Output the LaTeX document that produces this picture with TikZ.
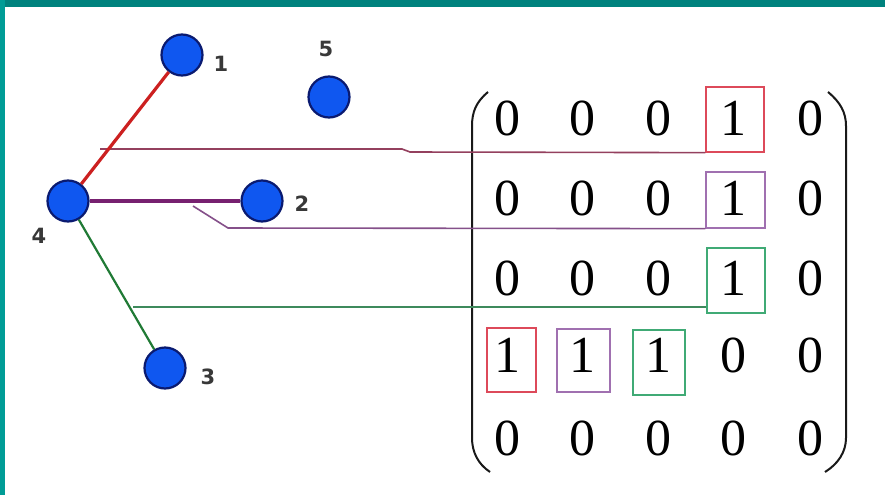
\documentclass[tikz,border=0pt]{standalone}
\usepackage{fontspec}
\setmainfont{Liberation Serif}
\newfontfamily\lblfont{DejaVu Sans}
\definecolor{tealtop}{HTML}{00827E}
\definecolor{tealside}{HTML}{009C96}
\definecolor{vfill}{HTML}{0F57F0}
\definecolor{vline}{HTML}{0A1A70}
\definecolor{redge}{HTML}{CC2020}
\definecolor{pedge}{HTML}{772070}
\definecolor{gedge}{HTML}{207A35}
\definecolor{rline}{HTML}{94405E}
\definecolor{pline}{HTML}{85508A}
\definecolor{gline}{HTML}{3E8A5C}
\definecolor{rbox}{HTML}{DD4A5A}
\definecolor{pbox}{HTML}{A070B0}
\definecolor{gbox}{HTML}{40AA75}
\tikzset{
  vert/.style={circle,fill=vfill,draw=vline,line width=2.2pt,minimum size=41pt,inner sep=0pt},
  lbl/.style={font=\lblfont\bfseries\fontsize{21}{21}\selectfont,text=black!78,inner sep=0pt},
  ent/.style={font=\fontsize{52}{52}\selectfont,inner sep=0pt,anchor=center},
  ebox/.style={draw=#1,line width=1.3pt,inner sep=0pt,rectangle},
  conn/.style={draw=#1,line width=1.6pt},
  paren/.style={line width=2pt,black!90}
}
\begin{document}
\begin{tikzpicture}[x=1pt,y=-1pt]
\fill[white] (0,0) rectangle (885,495);
\useasboundingbox (0,0) rectangle (885,495);
\fill[tealtop] (0,0) rectangle (885,7);
\fill[tealside] (0,0) rectangle (5,495);

% matrix entries
\foreach \r/\y in {1/118,2/198,3/278,4/355,5/438}{
  \foreach \c/\x in {1/507,2/582,3/658,4/733,5/810}{
    \coordinate (p\r\c) at (\x,\y);
  }
}
\node[ent] (e11) at (p11) {0}; \node[ent] (e12) at (p12) {0}; \node[ent] (e13) at (p13) {0}; \node[ent] (e14) at (p14) {1}; \node[ent] (e15) at (p15) {0};
\node[ent] (e21) at (p21) {0}; \node[ent] (e22) at (p22) {0}; \node[ent] (e23) at (p23) {0}; \node[ent] (e24) at (p24) {1}; \node[ent] (e25) at (p25) {0};
\node[ent] (e31) at (p31) {0}; \node[ent] (e32) at (p32) {0}; \node[ent] (e33) at (p33) {0}; \node[ent] (e34) at (p34) {1}; \node[ent] (e35) at (p35) {0};
\node[ent] (e41) at (p41) {1}; \node[ent] (e42) at (p42) {1}; \node[ent] (e43) at (p43) {1}; \node[ent] (e44) at (p44) {0}; \node[ent] (e45) at (p45) {0};
\node[ent] (e51) at (p51) {0}; \node[ent] (e52) at (p52) {0}; \node[ent] (e53) at (p53) {0}; \node[ent] (e54) at (p54) {0}; \node[ent] (e55) at (p55) {0};

% boxes
\node[ebox=rbox,minimum width=58pt,minimum height=65pt] (b1) at (735,119.5) {};
\node[ebox=pbox,minimum width=59pt,minimum height=56pt] (b2) at (735.5,200) {};
\node[ebox=gbox,minimum width=58pt,minimum height=65pt] (b3) at (736,280.5) {};
\node[ebox=rbox,minimum width=49pt,minimum height=64pt] (b41) at (511.5,360) {};
\node[ebox=pbox,minimum width=53pt,minimum height=63pt] (b42) at (583.5,360.5) {};
\node[ebox=gbox,minimum width=52pt,minimum height=65pt] (b43) at (659,362.5) {};

% parentheses
\draw[paren] (488,92) .. controls (476,102) and (472,112) .. (472,126) -- (472,438) .. controls (472,452) and (478,464) .. (490,472);
\draw[paren] (828,92) .. controls (840,102) and (846,112) .. (846,126) -- (846,438) .. controls (846,452) and (838,464) .. (825,472);

% graph
\node[vert] (n1) at (182,55) {};
\node[vert] (n2) at (262,201) {};
\node[vert] (n3) at (165,368) {};
\node[vert] (n4) at (68,201) {};
\node[vert] (n5) at (329,97) {};
\node[lbl] (l1) at (221,64) {1};
\node[lbl] (l2) at (302,204) {2};
\node[lbl] (l3) at (208,377) {3};
\node[lbl] (l4) at (39,236) {4};
\node[lbl] (l5) at (326,49) {5};

% connectors to matrix
\coordinate (r0) at (100,149);
\coordinate (r1) at (402,149);
\coordinate (r2) at (410,152);
\draw[conn=rline] (r0) -- (r1) -- (r2) -- (b1.south west);
\coordinate (q0) at (193,206);
\coordinate (q1) at (228,228);
\draw[conn=pline] (q0) -- (q1) -- (b2.south west);
\coordinate (g0) at (133,307);
\draw[conn=gline] (g0) -- (g0 -| b3.west);

% edges
\draw[redge,line width=3.2pt] (n4) -- (n1);
\draw[pedge,line width=3.2pt] (n4) -- (n2);
\draw[gedge,line width=2.2pt] (n4) -- (n3);
\end{tikzpicture}
\end{document}
